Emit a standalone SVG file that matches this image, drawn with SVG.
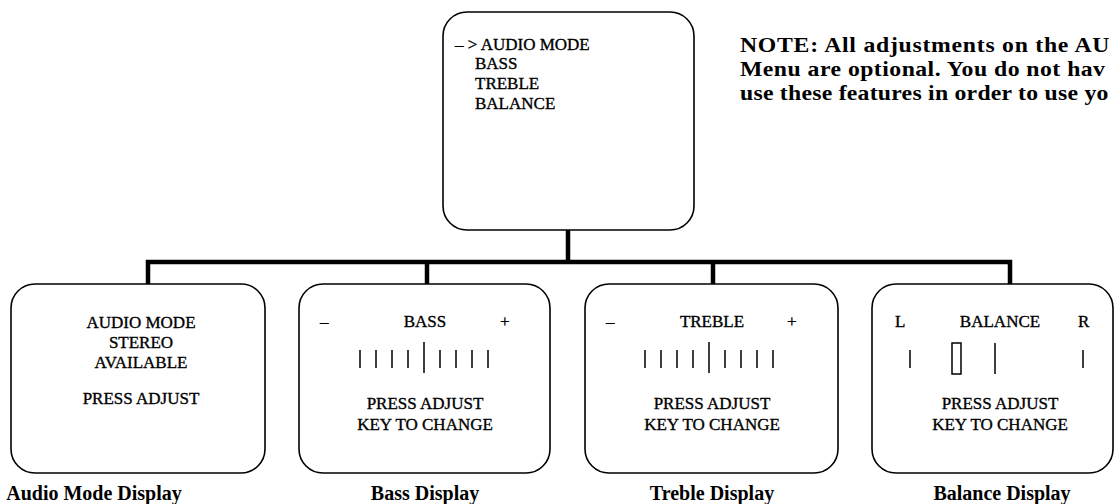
<svg xmlns="http://www.w3.org/2000/svg" width="1115" height="504" viewBox="0 0 1115 504">
<style>
.box{fill:#fff;stroke:#000;stroke-width:1.6}
.t{font-family:"Liberation Serif","Times New Roman",serif;font-size:17px;fill:#000;stroke:#000;stroke-width:0.35}
.c{text-anchor:middle}
.lbl{font-family:"Liberation Serif","Times New Roman",serif;font-size:20px;font-weight:bold;fill:#000;text-anchor:middle}
.note{font-family:"Liberation Serif","Times New Roman",serif;font-size:21px;font-weight:bold;fill:#000}
.tick{stroke:#000;stroke-width:1.5}
.bus{fill:none;stroke:#000;stroke-width:4.5;stroke-linejoin:miter}
</style>
<rect width="1115" height="504" fill="#fff"/>
<g id="connectors">
<path class="bus" d="M568,230 V262"/>
<path class="bus" d="M148,284 V262 H1010 V284"/>
<path class="bus" d="M427,262 V284"/>
<path class="bus" d="M713,262 V284"/>
</g>
<g id="menu">
<rect class="box" x="443" y="12" width="251" height="218" rx="24"/>
<text class="t" x="455" y="50">– &gt; AUDIO MODE</text>
<text class="t" x="475" y="69">BASS</text>
<text class="t" x="475" y="89">TREBLE</text>
<text class="t" x="475" y="109">BALANCE</text>
</g>
<g id="note" transform="translate(740,0) scale(1.13,1)">
<text class="note" x="0" y="52" textLength="327" lengthAdjust="spacing">NOTE:  All adjustments on the AU</text>
<text class="note" x="0" y="76" textLength="323" lengthAdjust="spacing">Menu are optional. You do not hav</text>
<text class="note" x="0" y="100" textLength="326" lengthAdjust="spacing">use these features in order to use yo</text>
</g>
<g id="audio-mode">
<rect class="box" x="11" y="284" width="254" height="189" rx="24"/>
<text class="t c" x="141" y="328">AUDIO MODE</text>
<text class="t c" x="141" y="348">STEREO</text>
<text class="t c" x="141" y="368">AVAILABLE</text>
<text class="t c" x="141" y="404">PRESS ADJUST</text>
<text class="lbl" x="94" y="500">Audio Mode Display</text>
</g>
<g id="bass">
<rect class="box" x="299" y="284" width="251" height="189" rx="24"/>
<text class="t" x="320" y="327">–</text>
<text class="t c" x="425" y="327">BASS</text>
<text class="t" x="500" y="327">+</text>
<path class="tick" d="M360,350V368M376,350V368M392,350V368M408,350V368M424,342V373M440,350V368M456,350V368M472,350V368M488,350V368"/>
<text class="t c" x="425" y="409">PRESS ADJUST</text>
<text class="t c" x="425" y="430">KEY TO CHANGE</text>
<text class="lbl" x="425" y="500">Bass Display</text>
</g>
<g id="treble">
<rect class="box" x="585" y="284" width="253" height="189" rx="24"/>
<text class="t" x="606" y="327">–</text>
<text class="t c" x="712" y="327">TREBLE</text>
<text class="t" x="787" y="327">+</text>
<path class="tick" d="M645,350V368M661,350V368M677,350V368M693,350V368M709,342V373M725,350V368M741,350V368M757,350V368M773,350V368"/>
<text class="t c" x="712" y="409">PRESS ADJUST</text>
<text class="t c" x="712" y="430">KEY TO CHANGE</text>
<text class="lbl" x="712" y="500">Treble Display</text>
</g>
<g id="balance">
<rect class="box" x="872" y="284" width="241" height="189" rx="24"/>
<text class="t" x="895" y="327">L</text>
<text class="t c" x="1000" y="327">BALANCE</text>
<text class="t" x="1078" y="327">R</text>
<path class="tick" d="M910,350V368M995,343V374M1083,350V368"/>
<rect x="952" y="343" width="9" height="31" fill="none" stroke="#000" stroke-width="1.5"/>
<text class="t c" x="1000" y="409">PRESS ADJUST</text>
<text class="t c" x="1000" y="430">KEY TO CHANGE</text>
<text class="lbl" x="1002" y="500">Balance Display</text>
</g>
</svg>
